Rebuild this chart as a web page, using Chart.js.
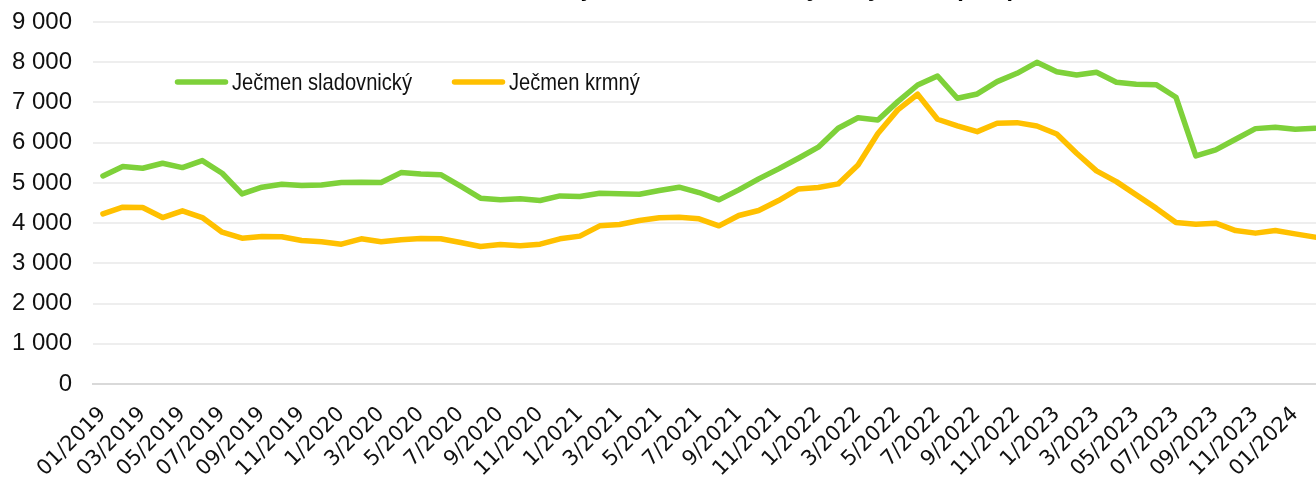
<!DOCTYPE html>
<html><head><meta charset="utf-8">
<script src="https://cdn.jsdelivr.net/npm/chart.js@4.4.1/dist/chart.umd.min.js"></script>
<style>
html,body{margin:0;padding:0;background:#fff;overflow:hidden;}
#wrap{position:relative;width:1316px;height:479px;overflow:hidden;background:#fff;}
#c{position:absolute;left:0;top:-25px;display:block;}
</style></head><body>
<div id="wrap"><canvas id="c" width="1360" height="504"></canvas></div>
<script>
const titleText = "Průměrná cena ječmene zemědělských výrobců (Kč/t)";
const seriesNames = ["Ječmen sladovnický", "Ječmen krmný"];
const seriesColors = ["#7ED13A", "#FFC000"];
const months = [
  "01/2019","02/2019","03/2019","04/2019","05/2019","06/2019","07/2019","08/2019","09/2019","10/2019","11/2019","12/2019",
  "1/2020","2/2020","3/2020","4/2020","5/2020","6/2020","7/2020","8/2020","9/2020","10/2020","11/2020","12/2020",
  "1/2021","2/2021","3/2021","4/2021","5/2021","6/2021","7/2021","8/2021","9/2021","10/2021","11/2021","12/2021",
  "1/2022","2/2022","3/2022","4/2022","5/2022","6/2022","7/2022","8/2022","9/2022","10/2022","11/2022","12/2022",
  "1/2023","2/2023","3/2023","4/2023","05/2023","06/2023","07/2023","08/2023","09/2023","10/2023","11/2023","12/2023",
  "01/2024","02/2024"
];
const sladovnicky = [
  5174,5405,5365,5489,5380,5554,5240,4727,4893,4967,4933,4950,
  5008,5017,5008,5256,5223,5205,4918,4620,4578,4603,4561,4677,
  4660,4744,4727,4719,4809,4893,4760,4578,4826,5100,5348,5613,
  5887,6359,6620,6565,7020,7434,7658,7104,7211,7517,7725,7998,
  7765,7683,7750,7501,7451,7442,7129,5671,5820,6085,6349,6383,
  6334,6359
];
const krmny = [
  4230,4396,4387,4139,4305,4139,3775,3626,3667,3659,3567,3535,
  3477,3609,3535,3584,3617,3610,3518,3418,3468,3435,3477,3609,
  3676,3932,3964,4064,4131,4148,4106,3932,4189,4313,4561,4851,
  4884,4975,5447,6230,6815,7203,6582,6416,6274,6483,6498,6416,
  6217,5738,5298,5032,4702,4372,4014,3974,3999,3815,3751,3815,
  3733,3651
];
const yMin = 0, yMax = 9000, yStep = 1000;

function fmt(v){ return String(v).replace(/\B(?=(\d{3})+(?!\d))/g, " "); }

const inlineLegend = {
  id: "inlineLegend",
  afterDatasetsDraw(chart, args, o) {
    const ctx = chart.ctx;
    const a = chart.chartArea;
    ctx.save();
    ctx.font = o.font;
    ctx.textBaseline = "middle";
    ctx.textAlign = "left";
    chart.data.datasets.forEach((ds, i) => {
      const x = a.left + o.dx[i], y = a.top + o.dy;
      ctx.strokeStyle = ds.borderColor;
      ctx.lineWidth = ds.borderWidth;
      ctx.lineCap = "round";
      ctx.beginPath();
      ctx.moveTo(x, y);
      ctx.lineTo(x + o.sample, y);
      ctx.stroke();
      ctx.fillStyle = o.color;
      ctx.save();
      ctx.translate(x + o.sample + o.gap, y + 1);
      ctx.scale(o.squeeze, 1);
      ctx.fillText(ds.label, 0, 0);
      ctx.restore();
    });
    ctx.restore();
  }
};

new Chart(document.getElementById("c"), {
  type: "line",
  data: {
    labels: months,
    datasets: [
      { label: seriesNames[0], data: sladovnicky, borderColor: seriesColors[0], backgroundColor: seriesColors[0],
        borderWidth: 5.5, pointRadius: 0, tension: 0, borderJoinStyle: "round", borderCapStyle: "round", order: 2 },
      { label: seriesNames[1], data: krmny, borderColor: seriesColors[1], backgroundColor: seriesColors[1],
        borderWidth: 5.5, pointRadius: 0, tension: 0, borderJoinStyle: "round", borderCapStyle: "round", order: 1 }
    ]
  },
  options: {
    responsive: false,
    animation: false,
    devicePixelRatio: 1,
    layout: { padding: { left: 0, right: 35, top: 0, bottom: 0 } },
    plugins: {
      legend: { display: false },
      tooltip: { enabled: false },
      title: {
        display: true, text: titleText, fullSize: false, color: "#000",
        font: { family: "'Liberation Sans', Arial, sans-serif", size: 24, weight: "bold", lineHeight: 1.2 },
        padding: { top: 0, bottom: 18.2 }
      },
      inlineLegend: { dx: [84.5, 361.5], dy: 60, sample: 48, gap: 6.5, squeeze: 0.838, color: "#111",
        font: "24px 'Liberation Sans', Arial, sans-serif" }
    },
    scales: {
      x: {
        type: "category",
        offset: true,
        grid: { display: false, drawTicks: false },
        border: { display: true, color: "#d9d9d9", width: 2 },
        ticks: {
          autoSkip: false, maxRotation: 45, minRotation: 45, padding: 18, labelOffset: 0,
          color: "#111",
          font: { family: "'DejaVu Sans', Verdana, sans-serif", size: 21 },
          callback: function(v, i){ return i % 2 === 0 ? this.getLabelForValue(v) : ""; }
        },
        afterFit: (s) => { s.height = 95; }
      },
      y: {
        min: yMin, max: yMax,
        grid: { color: (c) => c.tick && c.tick.value === 0 ? "#d9d9d9" : "#eeeeee", lineWidth: 2, drawTicks: false },
        border: { display: false },
        ticks: {
          stepSize: yStep, padding: 21, color: "#111",
          font: { family: "'Liberation Sans', Arial, sans-serif", size: 24 },
          callback: (v) => fmt(v)
        },
        afterFit: (s) => { s.width = 93; }
      }
    }
  },
  plugins: [inlineLegend]
});
</script>
</body></html>
